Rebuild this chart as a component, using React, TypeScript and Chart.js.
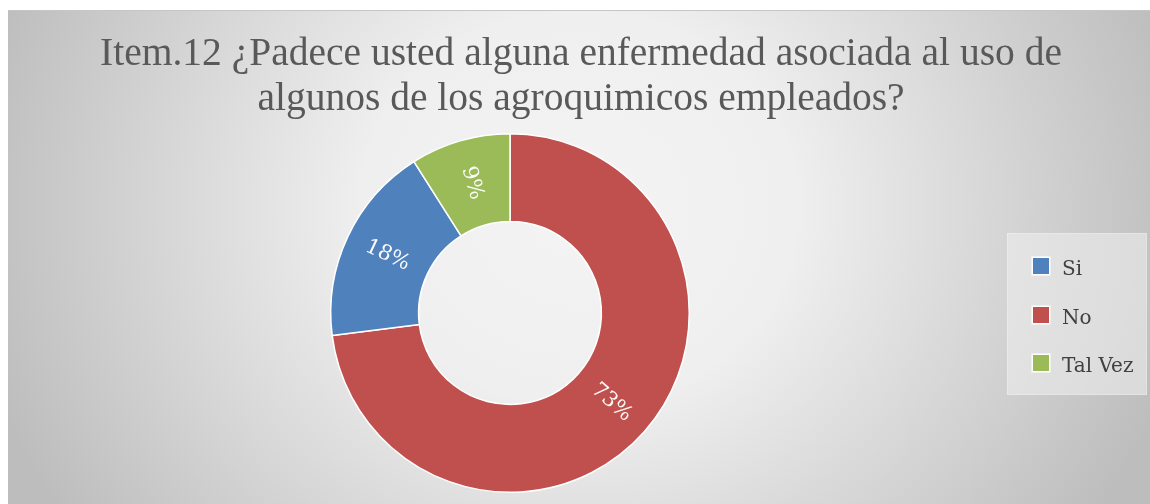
import React, { useEffect, useRef } from 'react';
import { Chart, registerables } from 'chart.js';

Chart.register(...registerables);

const titleLines: string[] = [
  'Item.12 ¿Padece usted alguna enfermedad asociada al uso de',
  'algunos de los agroquimicos empleados?',
];
// Slices in clockwise drawing order starting at 12 o'clock
const categories: string[] = ['No', 'Si', 'Tal Vez'];
const values: number[] = [73, 18, 9];
const sliceColors: string[] = ['#c0504d', '#4f81bd', '#9bbb59'];
const valueLabels: string[] = ['73%', '18%', '9%'];
// Legend order as shown in the reference
const legendOrder: string[] = ['Si', 'No', 'Tal Vez'];

const W = 1142;
const H = 494;

const titlePlugin = {
  id: 'customTitle',
  afterDraw(chart: any) {
    const ctx = chart.ctx;
    ctx.save();
    ctx.fillStyle = '#595959';
    ctx.font = '39.5px "Liberation Serif"';
    ctx.textAlign = 'center';
    ctx.textBaseline = 'alphabetic';
    const baselines = [54, 98.5];
    titleLines.forEach((line, i) => ctx.fillText(line, 573, baselines[i]));
    ctx.restore();
  },
};

const labelPlugin = {
  id: 'radialLabels',
  afterDatasetsDraw(chart: any) {
    const ctx = chart.ctx;
    const meta = chart.getDatasetMeta(0);
    ctx.save();
    ctx.font = '21px "DejaVu Serif"';
    ctx.fillStyle = 'rgba(255,255,255,0.96)';
    ctx.textAlign = 'center';
    ctx.textBaseline = 'middle';
    meta.data.forEach((arc: any, i: number) => {
      const p = arc.getProps(['x', 'y', 'startAngle', 'endAngle', 'innerRadius', 'outerRadius'], true);
      const mid = (p.startAngle + p.endAngle) / 2;
      const r = (p.innerRadius + p.outerRadius) / 2;
      const px = p.x + Math.cos(mid) * r;
      const py = p.y + Math.sin(mid) * r;
      let rot = mid;
      while (rot > Math.PI / 2) rot -= Math.PI;
      while (rot <= -Math.PI / 2) rot += Math.PI;
      ctx.save();
      ctx.translate(px, py);
      ctx.rotate(rot);
      ctx.fillText(valueLabels[i], 0, 0);
      ctx.restore();
    });
    ctx.restore();
  },
};

const legendPlugin = {
  id: 'customLegend',
  afterDraw(chart: any) {
    const ctx = chart.ctx;
    ctx.save();
    ctx.fillStyle = 'rgba(240,240,240,0.55)';
    ctx.fillRect(999, 222, 140, 162);
    ctx.strokeStyle = 'rgba(255,255,255,0.25)';
    ctx.lineWidth = 1;
    ctx.strokeRect(999.5, 222.5, 139, 161);
    const ys = [255, 304, 352];
    ctx.font = '20px "DejaVu Serif"';
    ctx.textAlign = 'left';
    ctx.textBaseline = 'alphabetic';
    legendOrder.forEach((name, i) => {
      const idx = categories.indexOf(name);
      const cy = ys[i];
      ctx.fillStyle = sliceColors[idx];
      ctx.fillRect(1025, cy - 8, 16, 16);
      ctx.strokeStyle = '#ffffff';
      ctx.lineWidth = 1.5;
      ctx.strokeRect(1024.25, cy - 8.75, 17.5, 17.5);
      ctx.fillStyle = '#404040';
      ctx.fillText(name, 1054, cy + 8.5);
    });
    ctx.restore();
  },
};

export default function App() {
  const canvasRef = useRef<HTMLCanvasElement | null>(null);

  useEffect(() => {
    if (!canvasRef.current) return;
    const chart = new Chart(canvasRef.current, {
      type: 'doughnut',
      data: {
        labels: categories,
        datasets: [
          {
            data: values,
            backgroundColor: sliceColors,
            borderColor: '#ffffff',
            borderWidth: 1.5,
          },
        ],
      },
      options: {
        responsive: false,
        animation: false,
        devicePixelRatio: 1,
        cutout: '51%',
        rotation: 0,
        layout: { padding: { top: 122, bottom: 11, left: 0, right: 138 } },
        plugins: {
          legend: { display: false },
          title: { display: false },
          tooltip: { enabled: false },
        },
      },
      plugins: [titlePlugin, labelPlugin, legendPlugin],
    });
    return () => chart.destroy();
  }, []);

  return (
    <div
      style={{
        position: 'fixed',
        left: 8,
        top: 10,
        width: W,
        height: H,
        borderTop: '1px solid #c6c6c6',
        boxSizing: 'border-box',
        background:
          'radial-gradient(ellipse 620px 560px at 50% 40%, #f4f4f4 0%, #efefef 35%, #bdbdbd 100%)',
      }}
    >
      <canvas ref={canvasRef} width={W} height={H - 1} style={{ display: 'block' }} />
    </div>
  );
}
